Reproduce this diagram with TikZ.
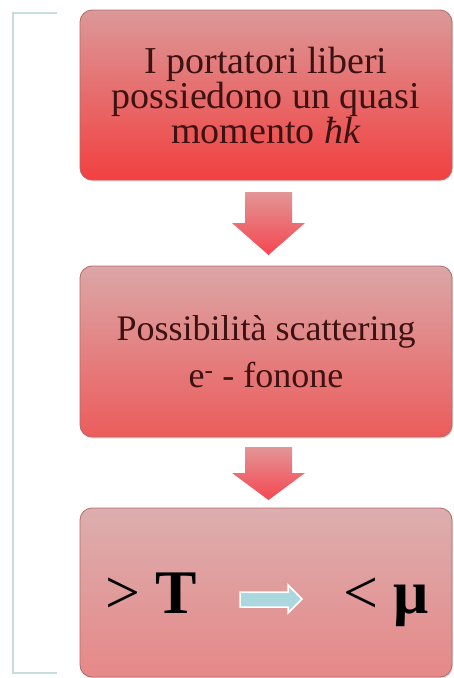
\documentclass[tikz,border=0pt]{standalone}
\usepackage{fontspec}
\setmainfont{Liberation Serif}
\usetikzlibrary{shadows}
\definecolor{txt}{RGB}{60,18,18}
\definecolor{bordercol}{RGB}{180,105,105}
\definecolor{brk}{RGB}{200,222,222}
\definecolor{aTop}{RGB}{226,150,150}
\definecolor{aBot}{RGB}{245,70,80}
\definecolor{lblue}{RGB}{170,216,222}
\begin{document}
\begin{tikzpicture}[x=1pt,y=1pt,
  box/.style={rounded corners=12pt, draw=bordercol, line width=0.8pt,
    minimum width=372pt, align=center, text=txt,
    drop shadow={opacity=0.25, shadow xshift=1pt, shadow yshift=-1.5pt}},
  blockarrow/.style={top color=aTop, bottom color=aBot, draw=none},
  bracketline/.style={draw=brk, line width=2pt},
  bigtxt/.style={font=\fontsize{62}{62}\selectfont, text=black, inner sep=0pt, anchor=base}
]
\useasboundingbox (0,0) rectangle (453,-678);
% bracket
\draw[bracketline] (57,-13) -- (13,-13) -- (13,-673) -- (57,-673);
% boxes
\node[box, minimum height=170pt, top color={rgb,255:red,220;green,152;blue,152}, bottom color={rgb,255:red,242;green,64;blue,64},
  font=\fontsize{38}{35}\selectfont] (b1) at (266,-95)
  {I portatori liberi\\possiedono un quasi\\momento \textit{ħk}};
\node[box, minimum height=171pt, top color={rgb,255:red,220;green,166;blue,166}, bottom color={rgb,255:red,236;green,92;blue,92},
  font=\fontsize{36}{47}\selectfont] (b2) at (266,-351.5)
  {Possibilità scattering\\e\textsuperscript{-} - fonone};
\node[box, minimum height=169pt, top color={rgb,255:red,220;green,174;blue,174}, bottom color={rgb,255:red,230;green,136;blue,136}] (b3) at (266,-592.5) {};
% block arrows
\path[blockarrow] (245,-192) -- (292,-192) -- (292,-223) -- (305,-223) -- (268.5,-255) -- (232,-223) -- (245,-223) -- cycle;
\path[blockarrow] (245,-447) -- (292,-447) -- (292,-473) -- (305,-473) -- (268.5,-500) -- (232,-473) -- (245,-473) -- cycle;
% box 3 content
\node[bigtxt] (gt) at (151,-613) {> \textbf{T}};
\node[bigtxt] (lt) at (386,-613) {< \textbf{μ}};
\path[fill=lblue, draw=white, line width=1.5pt] (240,-592) -- (288,-592) -- (288,-585) -- (302,-599) -- (288,-613) -- (288,-607) -- (240,-607) -- cycle;
\end{tikzpicture}
\end{document}
